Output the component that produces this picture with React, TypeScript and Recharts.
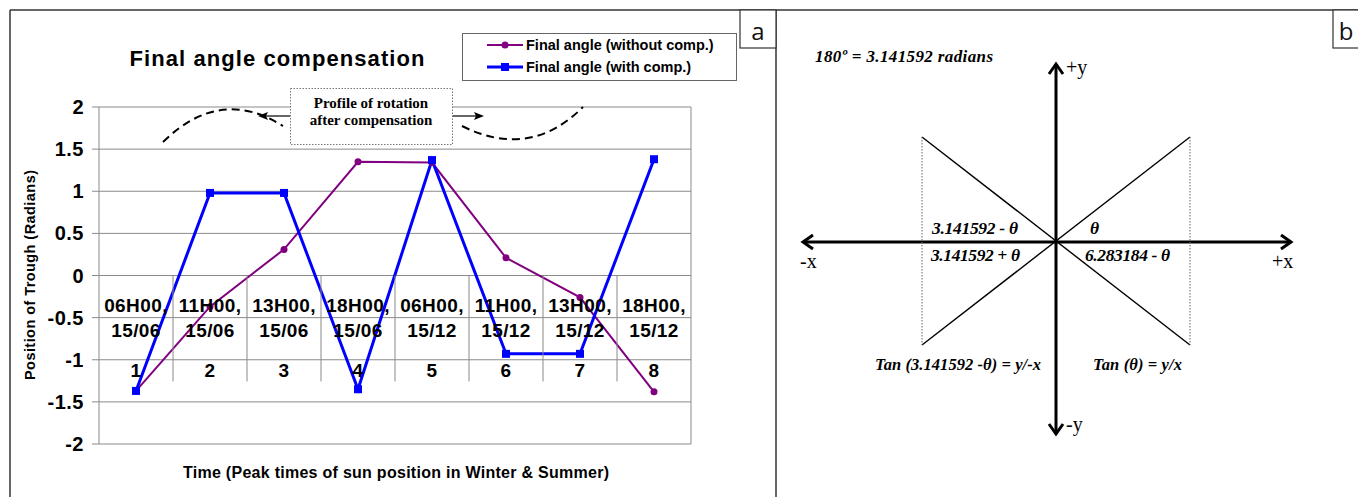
import { CartesianGrid, Legend, Line, LineChart, XAxis, YAxis } from "recharts"

// chart a data
const times = ["06H00,", "11H00,", "13H00,", "18H00,", "06H00,", "11H00,", "13H00,", "18H00,"]
const dates = ["15/06", "15/06", "15/06", "15/06", "15/12", "15/12", "15/12", "15/12"]
const steps = [1, 2, 3, 4, 5, 6, 7, 8]
const withoutComp = [-1.37, -0.37, 0.31, 1.35, 1.34, 0.21, -0.26, -1.38]
const withComp = [-1.37, 0.98, 0.98, -1.35, 1.37, -0.93, -0.93, 1.38]
const yTicks = [-2, -1.5, -1, -0.5, 0, 0.5, 1, 1.5, 2]

const data = steps.map((s, i) => ({
  step: s,
  time: times[i],
  date: dates[i],
  without: withoutComp[i],
  with: withComp[i],
}))

const W = 776
const H = 497
const PLOT_TOP = 107
const PLOT_BOTTOM = 444
const PLOT_LEFT = 99
const PLOT_RIGHT = 691
const ZERO_Y = PLOT_TOP + ((PLOT_BOTTOM - PLOT_TOP) * 2) / 4
const BAND = (PLOT_RIGHT - PLOT_LEFT) / steps.length

const SANS = "'Liberation Sans', Arial, sans-serif"
const SERIF = "'Liberation Serif', 'Times New Roman', serif"
const GRID = "#8a8a8a"

function CategoryTick(props: any) {
  const { x, payload } = props
  const i = payload?.index ?? props.index ?? 0
  const row = data[i]
  const txt = { fontFamily: SANS, fontWeight: "bold", fontSize: 19, fill: "#000", textAnchor: "middle" as const, letterSpacing: 0.4 }
  return (
    <g>
      {i > 0 && <line x1={x - BAND / 2} x2={x - BAND / 2} y1={ZERO_Y} y2={ZERO_Y + 106} stroke={GRID} />}
      <text x={x} y={ZERO_Y + 36} {...txt}>{row.time}</text>
      <text x={x} y={ZERO_Y + 61} {...txt}>{row.date}</text>
      <text x={x} y={ZERO_Y + 101} {...txt}>{payload.value}</text>
    </g>
  )
}

function SquareDot(props: any) {
  const { cx, cy } = props
  if (cx == null || cy == null) return null
  return <rect x={cx - 4} y={cy - 4} width={8} height={8} fill="#0000FF" />
}

function RoundDot(props: any) {
  const { cx, cy } = props
  if (cx == null || cy == null) return null
  return <circle cx={cx} cy={cy} r={3.5} fill="#800080" />
}

function LegendBox() {
  const rows = [
    { label: "Final angle (without comp.)", color: "#800080", w: 2, square: false },
    { label: "Final angle (with comp.)", color: "#0000FF", w: 3, square: true },
  ]
  return (
    <svg width={275} height={48} style={{ display: "block" }}>
      <rect x={0.5} y={0.5} width={274} height={47} fill="#fff" stroke="#666" />
      {rows.map((r, i) => {
        const cy = 12 + i * 22
        return (
          <g key={r.label}>
            <line x1={25} x2={61} y1={cy} y2={cy} stroke={r.color} strokeWidth={r.w} />
            {r.square ? (
              <rect x={39} y={cy - 4} width={8} height={8} fill={r.color} />
            ) : (
              <circle cx={43} cy={cy} r={3.5} fill={r.color} />
            )}
            <text x={64} y={cy + 5} fontFamily={SANS} fontWeight="bold" fontSize={14.5} fill="#000">
              {r.label}
            </text>
          </g>
        )
      })}
    </svg>
  )
}

function Overlay() {
  const it = { fontFamily: SERIF, fontStyle: "italic", fontWeight: "bold", fontSize: 17.5, fill: "#000" }
  return (
    <svg width={1358} height={497} style={{ position: "absolute", left: 0, top: 0, pointerEvents: "none" }}>
      {/* frames */}
      <line x1={10} x2={1358} y1={10} y2={10} stroke="#333" strokeWidth={1.5} />
      <line x1={10} x2={10} y1={10} y2={497} stroke="#333" strokeWidth={1.5} />
      <line x1={776} x2={776} y1={10} y2={497} stroke="#333" strokeWidth={1.5} />
      <rect x={740} y={10} width={36} height={38} fill="#fff" stroke="#333" strokeWidth={1.2} />
      <text x={758} y={40} textAnchor="middle" fontFamily="'Open Sans', sans-serif" fontSize={24} fill="#111">a</text>
      <rect x={1333} y={10} width={30} height={38} fill="#fff" stroke="#333" strokeWidth={1.2} />
      <text x={1346} y={40} textAnchor="middle" fontFamily="'Open Sans', sans-serif" fontSize={24} fill="#111">b</text>

      {/* panel a texts */}
      <text x={277} y={66} textAnchor="middle" fontFamily={SANS} fontWeight="bold" fontSize={22} textLength={295} lengthAdjust="spacing">
        Final angle compensation
      </text>
      <line x1={PLOT_RIGHT} x2={PLOT_RIGHT} y1={PLOT_TOP} y2={PLOT_BOTTOM} stroke={GRID} />
      <text x={396} y={478} textAnchor="middle" fontFamily={SANS} fontWeight="bold" fontSize={16} textLength={426} lengthAdjust="spacing">
        Time (Peak times of sun position in Winter &amp; Summer)
      </text>
      <text
        x={0}
        y={0}
        transform="translate(35 275) rotate(-90)"
        textAnchor="middle"
        fontFamily={SANS}
        fontWeight="bold"
        fontSize={14.5}
        textLength={210}
        lengthAdjust="spacing"
      >
        Position of Trough (Radians)
      </text>

      {/* rotation annotation */}
      <path d="M163 142 Q 220 86 283 126" fill="none" stroke="#000" strokeWidth={2} strokeDasharray="8 5" />
      <path d="M462 126 Q 530 160 583 107" fill="none" stroke="#000" strokeWidth={2} strokeDasharray="8 5" />
      <line x1={290} x2={264} y1={116} y2={116} stroke="#333" strokeWidth={1.5} />
      <path d="M258 116 L268 112 L266 116 L268 120 Z" fill="#000" />
      <line x1={452} x2={478} y1={116} y2={116} stroke="#333" strokeWidth={1.5} />
      <path d="M484 116 L474 112 L476 116 L474 120 Z" fill="#000" />
      <rect x={290.5} y={88.5} width={162} height={56} fill="#fff" stroke="#777" strokeDasharray="1.5 1.5" />
      <text x={371} y={108} textAnchor="middle" fontFamily={SERIF} fontWeight="bold" fontSize={15}>Profile of rotation</text>
      <text x={371} y={125} textAnchor="middle" fontFamily={SERIF} fontWeight="bold" fontSize={15}>after compensation</text>

      {/* panel b diagram */}
      <text x={815} y={62} {...it} fontSize={17} textLength={178} lengthAdjust="spacing">180º = 3.141592 radians</text>
      <line x1={803} x2={1291} y1={242} y2={242} stroke="#000" strokeWidth={3} />
      <polyline points="813,235 803,242 813,249" fill="none" stroke="#000" strokeWidth={3} />
      <polyline points="1281,235 1291,242 1281,249" fill="none" stroke="#000" strokeWidth={3} />
      <line x1={1056} x2={1056} y1={64} y2={434} stroke="#000" strokeWidth={3} />
      <polyline points="1049,74 1056,64 1063,74" fill="none" stroke="#000" strokeWidth={3} />
      <polyline points="1049,424 1056,434 1063,424" fill="none" stroke="#000" strokeWidth={3} />
      <line x1={922} y1={137} x2={1190} y2={345} stroke="#000" strokeWidth={1.4} />
      <line x1={1190} y1={137} x2={922} y2={345} stroke="#000" strokeWidth={1.4} />
      <line x1={922} y1={137} x2={922} y2={345} stroke="#666" strokeDasharray="1.5 1.5" />
      <line x1={1190} y1={137} x2={1190} y2={345} stroke="#666" strokeDasharray="1.5 1.5" />
      <text x={1066} y={74} fontFamily={SERIF} fontSize={20}>+y</text>
      <text x={1066} y={431} fontFamily={SERIF} fontSize={20}>-y</text>
      <text x={800} y={268} fontFamily={SERIF} fontSize={20}>-x</text>
      <text x={1272} y={268} fontFamily={SERIF} fontSize={20}>+x</text>
      <text x={932} y={234} {...it} textLength={86} lengthAdjust="spacing">3.141592 - θ</text>
      <text x={1090} y={234} {...it}>θ</text>
      <text x={931} y={261} {...it} textLength={89} lengthAdjust="spacing">3.141592 + θ</text>
      <text x={1085} y={261} {...it} textLength={85} lengthAdjust="spacing">6.283184 - θ</text>
      <text x={875} y={370} {...it} fontSize={16.5} textLength={166} lengthAdjust="spacing">Tan (3.141592 -θ) = y/-x</text>
      <text x={1093} y={370} {...it} fontSize={16.5} textLength={89} lengthAdjust="spacing">Tan (θ) = y/x</text>
    </svg>
  )
}

export default function App() {
  return (
    <div style={{ position: "absolute", left: 0, top: 0, width: 1358, height: 497, background: "#fff", fontFamily: SANS }}>
      <LineChart width={W} height={H} data={data} margin={{ top: PLOT_TOP, right: W - PLOT_RIGHT, bottom: H - PLOT_BOTTOM - 30, left: 0 }}>
        <CartesianGrid vertical={false} stroke={GRID} />
        <XAxis dataKey="step" scale="band" height={30} axisLine={false} tickLine={false} tick={<CategoryTick />} interval={0} />
        <YAxis
          width={PLOT_LEFT}
          domain={[-2, 2]}
          ticks={yTicks}
          interval={0}
          axisLine={{ stroke: GRID }}
          tickLine={{ stroke: GRID }}
          tickSize={7}
          tickMargin={8}
          tick={{ fill: "#000", fontSize: 20, fontWeight: "bold", fontFamily: SANS, letterSpacing: 0.5 }}
        />
        <Legend
          layout="vertical"
          align="center"
          verticalAlign="middle"
          content={<LegendBox />}
          wrapperStyle={{ position: "absolute", left: 462, top: 33, width: 275, height: 48 }}
        />
        <Line type="linear" dataKey="without" stroke="#800080" strokeWidth={2} dot={<RoundDot />} activeDot={false} isAnimationActive={false} />
        <Line type="linear" dataKey="with" stroke="#0000FF" strokeWidth={3} dot={<SquareDot />} activeDot={false} isAnimationActive={false} />
      </LineChart>
      <Overlay />
    </div>
  )
}
